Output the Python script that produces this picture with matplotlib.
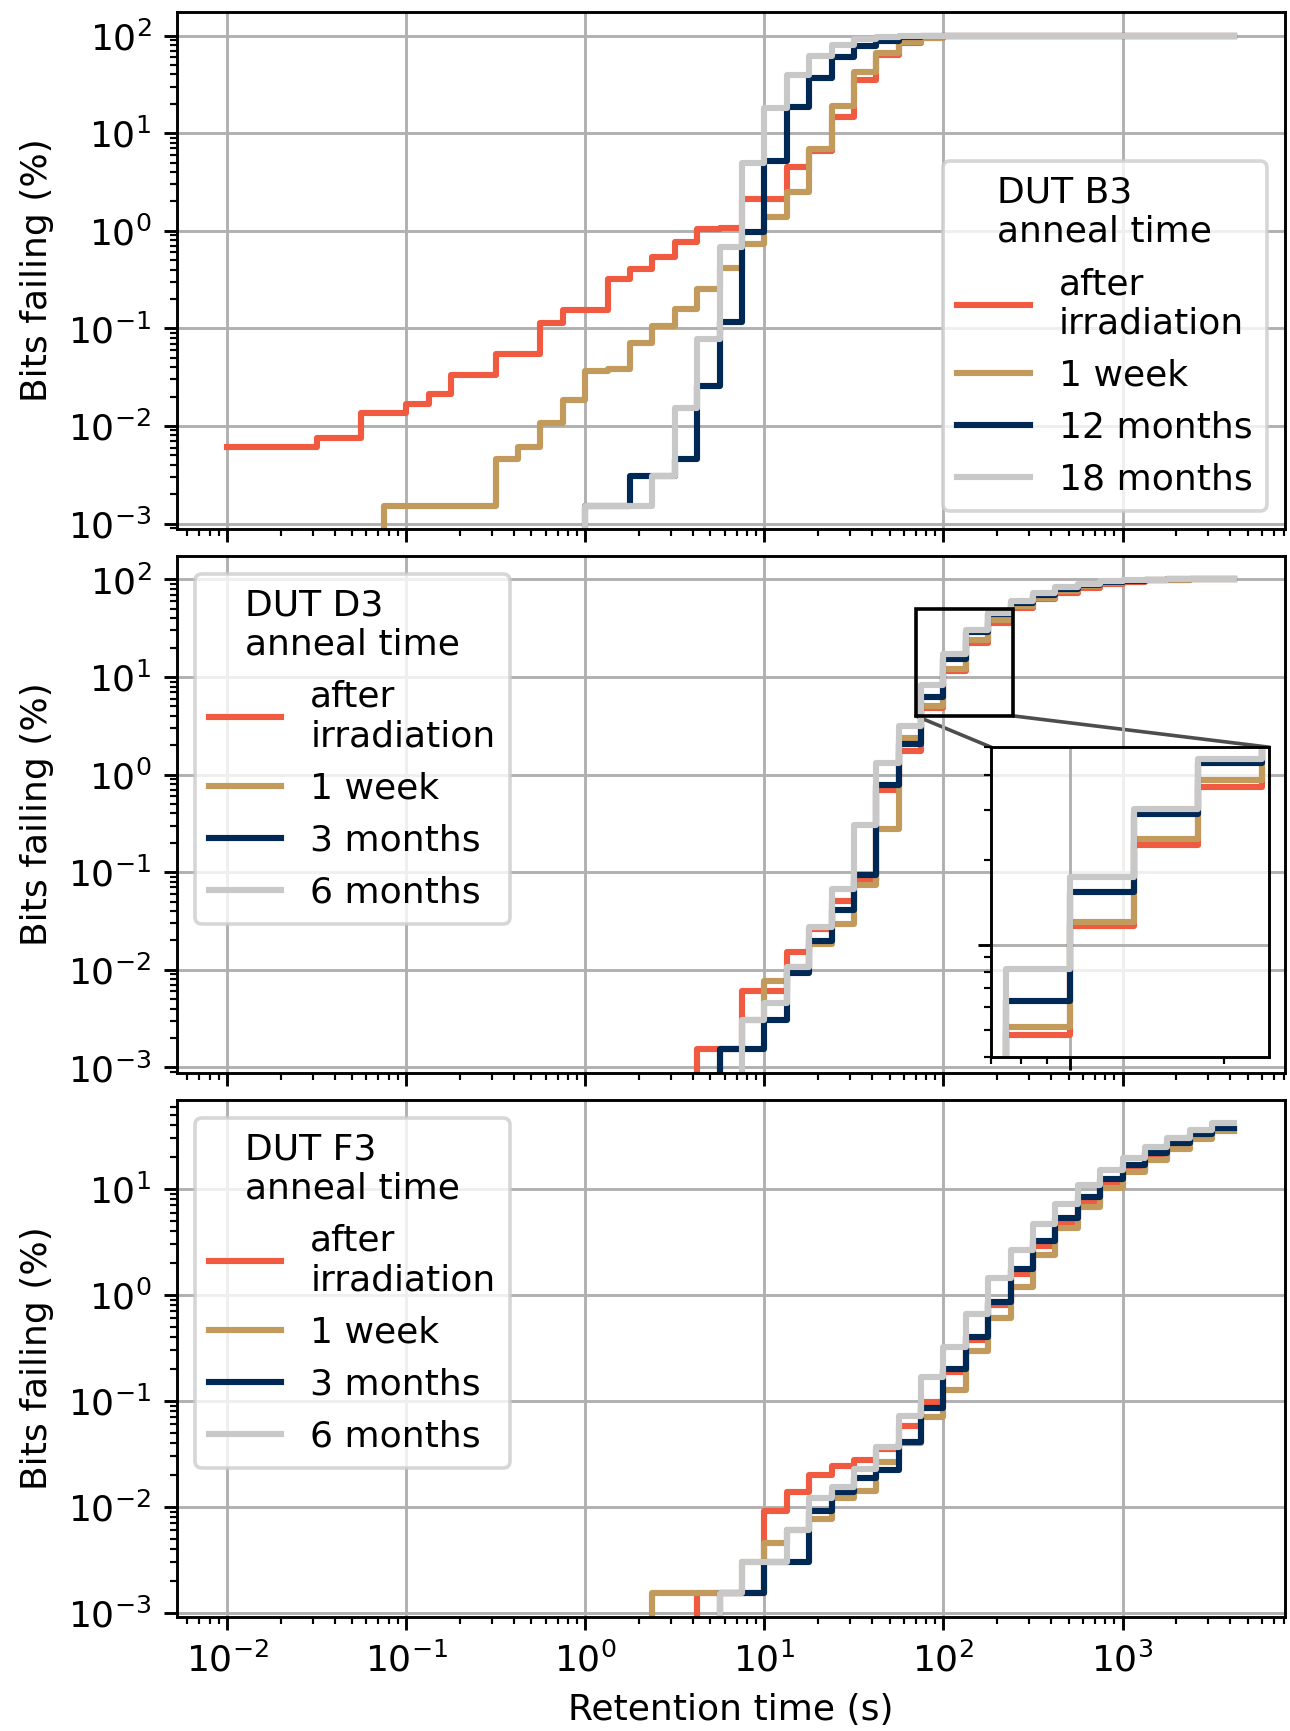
import matplotlib.pyplot as plt
import numpy as np
from matplotlib.patches import ConnectionPatch

# Retention times (s) at which failing bits were counted
times = [0.01, 0.01334, 0.01778, 0.02371, 0.03162, 0.04217, 0.05623, 0.07499,
         0.1, 0.1334, 0.1778, 0.2371, 0.3162, 0.4217, 0.5623, 0.7499,
         1.0, 1.334, 1.778, 2.371, 3.162, 4.217, 5.623, 7.499,
         10.0, 13.34, 17.78, 23.71, 31.62, 42.17, 56.23, 74.99,
         100.0, 133.4, 177.8, 237.1, 316.2, 421.7, 562.3, 749.9,
         1000.0, 1334.0, 1778.0, 2371.0, 3162.0, 4217.0]

# Bits failing (%), listed up to the last time; earlier times have no failing bits
# DUT B3
b3_after = [0.0061, 0.0061, 0.0061, 0.0061, 0.0076, 0.0076, 0.0137, 0.0137,
            0.0168, 0.0214, 0.0336, 0.0336, 0.0549, 0.0549, 0.113, 0.156,
            0.156, 0.319, 0.407, 0.541, 0.76, 1.035, 1.07, 2.14,
            2.14, 4.54, 6.6, 14.7, 35.4, 63.6, 85.0, 94.0,
            98.0, 99.5, 100, 100, 100, 100, 100, 100,
            100, 100, 100, 100, 100, 100]
b3_week = [0.00153, 0.00153, 0.00153, 0.00153, 0.00153, 0.00458, 0.0061, 0.0107,
           0.0183, 0.0366, 0.038, 0.0702, 0.106, 0.157, 0.254, 0.417,
           0.729, 1.37, 2.49, 6.97, 18.9, 42.3, 66.7, 86.5,
           95.0, 98.5, 99.6, 100, 100, 100, 100, 100,
           100, 100, 100, 100, 100, 100, 100]
b3_12m = [0.00153, 0.00153, 0.00305, 0.00305, 0.00458, 0.0259, 0.1156, 0.977,
          5.25, 18.5, 36.8, 60.0, 77.6, 88.0, 96.0, 99.0,
          100, 100, 100, 100, 100, 100, 100, 100,
          100, 100, 100, 100, 100, 100]
b3_18m = [0.00153, 0.00153, 0.00153, 0.00305, 0.0153, 0.078, 0.675, 4.9,
          18.2, 39.9, 62.4, 81.0, 92.0, 97.5, 99.3, 100,
          100, 100, 100, 100, 100, 100, 100, 100,
          100, 100, 100, 100, 100, 100]

# DUT D3
d3_after = [0.00153, 0.00153, 0.0061, 0.0061, 0.0153, 0.026, 0.0507, 0.0823,
            0.69, 1.74, 4.8, 11.6, 22.5, 36.2, 51.0, 63.0,
            73.0, 82.0, 90.0, 95.0, 98.0, 99.3, 100, 100, 100]
d3_week = [0.00153, 0.00305, 0.0076, 0.0107, 0.0184, 0.0294, 0.0738, 0.28,
           2.35, 5.1, 12.0, 23.7, 38.4, 53.0, 65.0, 76.0,
           85.0, 92.0, 96.5, 98.5, 99.5, 100, 100, 100]
d3_3m = [0.00153, 0.00153, 0.00305, 0.0092, 0.0198, 0.0412, 0.0946, 0.78,
         2.05, 6.3, 15.3, 28.9, 44.0, 57.0, 69.0, 80.0,
         88.0, 94.0, 97.5, 99.0, 100, 100, 100, 100]
d3_6m = [0.00305, 0.00458, 0.0107, 0.0275, 0.0667, 0.305, 1.33,
         3.18, 8.2, 17.4, 30.2, 45.5, 59.8, 71.8, 83.4,
         90.6, 96.0, 98.5, 99.5, 100, 100, 100, 100]

# DUT F3
f3_after = [0.00153, 0.00153, 0.00153, 0.0092, 0.0137, 0.0198, 0.0244, 0.0275,
            0.035, 0.0586, 0.097, 0.187, 0.377, 0.80, 1.58, 2.9,
            4.74, 7.45, 11.0, 15.2, 20.1, 25.8, 31.3, 36.5, 36.5]
f3_week = [0.00153, 0.00153, 0.00153, 0.00153, 0.00305, 0.00458, 0.0061, 0.0076,
           0.0122, 0.014, 0.0264, 0.0398, 0.0711, 0.127, 0.299, 0.60,
           1.18, 2.37, 4.27, 6.8, 10.2, 14.4, 18.6, 23.8, 29.6, 35.1, 35.1]
f3_3m = [0.00153, 0.00153, 0.00305, 0.00305, 0.0092, 0.0137, 0.0188, 0.0222,
         0.0413, 0.0863, 0.198, 0.398, 0.849, 1.75, 3.22, 5.38,
         8.37, 12.3, 16.8, 22.0, 27.4, 33.0, 38.0, 38.0]
f3_6m = [0.00153, 0.00305, 0.00305, 0.0061, 0.0122, 0.0153, 0.0229, 0.0366,
         0.072, 0.167, 0.322, 0.664, 1.44, 2.68, 4.68, 7.16,
         10.8, 15.0, 19.6, 24.8, 30.1, 36.0, 41.7, 41.7]

colors = ['#F05A40', '#C29A5B', '#002855', '#C8C8C8']
labels_b3 = ['after\nirradiation', '1 week', '12 months', '18 months']
labels_df = ['after\nirradiation', '1 week', '3 months', '6 months']

# zoom window of the D3 inset (s, %)
zoom_x = (70, 245)
zoom_y = (4, 50)


def pad(vals):
    return np.array([0.0] * (len(times) - len(vals)) + list(vals))


t = np.array(times)

fig, axes = plt.subplots(3, 1, sharex=True, figsize=(1290 / 260, 1731 / 260), dpi=260)
fig.subplots_adjust(left=0.137, right=0.996, top=0.993, bottom=0.066, hspace=0.052)

panels = [
    (axes[0], [b3_after, b3_week, b3_12m, b3_18m], labels_b3, 'DUT B3\nanneal time', 'lower right'),
    (axes[1], [d3_after, d3_week, d3_3m, d3_6m], labels_df, 'DUT D3\nanneal time', 'upper left'),
    (axes[2], [f3_after, f3_week, f3_3m, f3_6m], labels_df, 'DUT F3\nanneal time', 'upper left'),
]

for ax, series, labels, title, loc in panels:
    for vals, c, lab in zip(series, colors, labels):
        ax.step(t, pad(vals), where='post', color=c, lw=1.7, label=lab)
    ax.set_xscale('log')
    ax.set_yscale('log')
    ax.grid(True, color='#b0b0b0')
    ax.set_ylabel('Bits failing (%)')
    ax.legend(title=title, loc=loc)

axes[2].set_xlabel('Retention time (s)')

# Zoomed inset for DUT D3
ax2 = axes[1]
axins = ax2.inset_axes([0.735, 0.031, 0.251, 0.599])
axins.patch.set_alpha(0.8)
for vals, c in zip([d3_after, d3_week, d3_3m, d3_6m], colors):
    axins.step(t[28:36], pad(vals)[28:36], where='post', color=c, lw=1.7)
axins.set_xscale('log')
axins.set_yscale('log')
axins.set_xlim(*zoom_x)
axins.set_ylim(*zoom_y)
axins.grid(True, color='#b0b0b0')
axins.tick_params(which='both', labelbottom=False, labelleft=False)

ax2.indicate_inset([zoom_x[0], zoom_y[0], zoom_x[1] - zoom_x[0], zoom_y[1] - zoom_y[0]],
                   edgecolor='black', alpha=1, linewidth=1.0)
for xa, xb in [(zoom_x[0], 0), (zoom_x[1], 1)]:
    con = ConnectionPatch(xyA=(xa, zoom_y[0]), coordsA=ax2.transData,
                          xyB=(xb, 1), coordsB=axins.transAxes,
                          color='0.3', lw=1.0)
    ax2.add_artist(con)

fig.savefig('out.png', dpi=260)
